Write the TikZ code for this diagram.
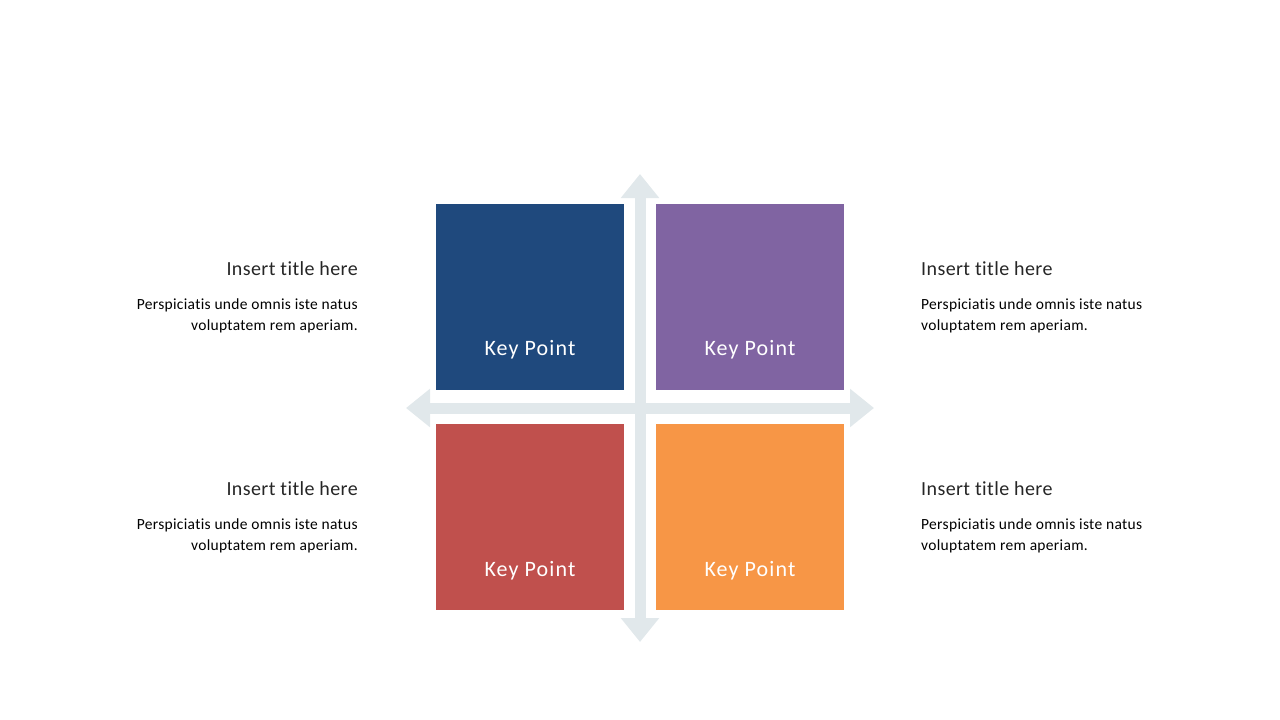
\documentclass[tikz,border=0pt]{standalone}
\usepackage{fontspec}
\setmainfont{Carlito}[LetterSpace=2, Ligatures=NoCommon]
\newfontfamily\keyfont{Carlito}[LetterSpace=5, Ligatures=NoCommon]
\usetikzlibrary{arrows.meta}
\definecolor{kpblue}{HTML}{1F497D}
\definecolor{kppurple}{HTML}{8064A2}
\definecolor{kpred}{HTML}{C0504D}
\definecolor{kporange}{HTML}{F79646}
\definecolor{crossgrey}{HTML}{E1E8EB}
\tikzset{
    keybox/.style={minimum width=188pt, minimum height=186pt, inner sep=0pt, draw=none},
    keytext/.style={text=white, font=\keyfont\fontsize{22}{26}\selectfont, inner sep=0pt},
    crossbar/.style={draw=crossgrey, line width=11pt, {Triangle[width=37pt,length=24pt]}-{Triangle[width=37pt,length=24pt]}},
    titletext/.style={text=black!85, font=\fontsize{20}{24}\selectfont, inner sep=0pt},
    bodytext/.style={text=black, font=\fontsize{15.5}{21}\selectfont, inner sep=0pt}
}
\begin{document}
\begin{tikzpicture}[x=1pt, y=-1pt]

    \useasboundingbox (0,0) rectangle (1280,720);

    \coordinate(top) at (640,174);
    \coordinate(bottom) at (640,642);
    \coordinate(left) at (406,408);
    \coordinate(right) at (874,408);

    \draw[crossbar] (top) -- (bottom);
    \draw[crossbar] (left) -- (right);

    \node(kp1)[keybox, fill=kpblue] at (530,297) {};
    \node(kp2)[keybox, fill=kppurple] at (750,297) {};
    \node(kp3)[keybox, fill=kpred] at (530,517) {};
    \node(kp4)[keybox, fill=kporange] at (750,517) {};

    \foreach \k in {kp1, kp2, kp3, kp4}
    {
        \node[keytext] at ([yshift=40pt]\k.south) {Key Point};
    }

    \node(t1)[titletext, anchor=east] at (358,269) {Insert title here};
    \node(b1)[bodytext, anchor=east, align=right] at (358,316) {Perspiciatis unde omnis iste natus\\voluptatem rem aperiam.};

    \node(t2)[titletext, anchor=west] at (921,269) {Insert title here};
    \node(b2)[bodytext, anchor=west, align=left] at (921,316) {Perspiciatis unde omnis iste natus\\voluptatem rem aperiam.};

    \node(t3)[titletext, anchor=east] at (358,489) {Insert title here};
    \node(b3)[bodytext, anchor=east, align=right] at (358,536) {Perspiciatis unde omnis iste natus\\voluptatem rem aperiam.};

    \node(t4)[titletext, anchor=west] at (921,489) {Insert title here};
    \node(b4)[bodytext, anchor=west, align=left] at (921,536) {Perspiciatis unde omnis iste natus\\voluptatem rem aperiam.};

\end{tikzpicture}
\end{document}
